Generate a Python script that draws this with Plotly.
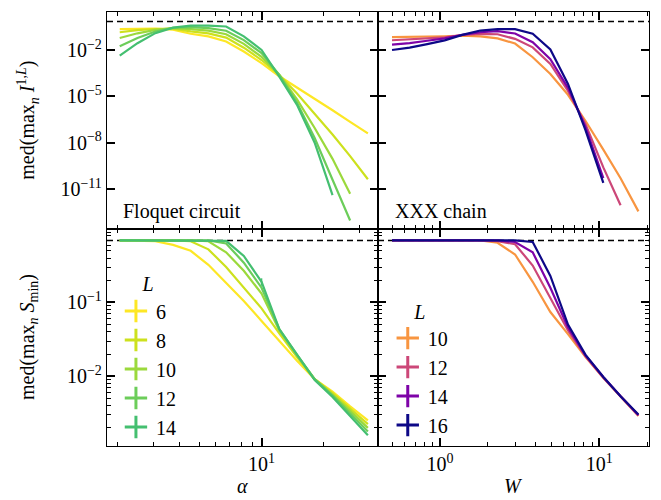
import numpy as np
import plotly.graph_objects as go
from plotly.subplots import make_subplots

# ---------------- data (stored as log10) ----------------
alpha = [2.05, 2.5, 3.05, 3.72, 4.53, 5.52, 6.73, 8.2, 10.0, 12.19, 14.86, 18.1, 22.1, 26.9, 32.8]
W = [0.5, 0.645, 0.832, 1.07, 1.38, 1.79, 2.30, 2.96, 3.82, 4.93, 6.36, 8.2, 10.6, 13.6, 17.6]

L_floquet = [6, 8, 10, 12, 14]
L_xxx = [10, 12, 14, 16]

# top-left: med(max_n I^{1,L}), Floquet circuit (log10 values)
floq_I_L6 = [-0.65, -0.62, -0.61, -0.68, -0.95, -1.12, -1.45, -2.10, -2.85, -3.70, -4.42, -5.15, -5.90, -6.65, -7.40]
floq_I_L8 = [-0.85, -0.72, -0.64, -0.62, -0.80, -0.92, -1.20, -1.85, -2.65, -3.62, -4.82, -6.12, -7.47, -8.87, -10.37]
floq_I_L10 = [-1.22, -0.92, -0.70, -0.58, -0.65, -0.75, -0.98, -1.60, -2.45, -3.60, -5.20, -7.05, -9.05, -11.31]
floq_I_L12 = [-1.76, -1.22, -0.80, -0.56, -0.52, -0.58, -0.75, -1.36, -2.20, -3.62, -5.42, -7.70, -10.40, -13.04]
floq_I_L14 = [-2.36, -1.56, -0.91, -0.55, -0.42, -0.42, -0.48, -1.12, -2.00, -3.73, -5.55, -8.00, -11.40]

# top-right: med(max_n I^{1,L}), XXX chain (log10 values)
xxx_I_L10 = [-1.17, -1.16, -1.14, -1.11, -1.07, -1.12, -1.25, -1.58, -2.47, -3.55, -4.90, -6.60, -8.45, -10.30, -12.45]
xxx_I_L12 = [-1.37, -1.32, -1.25, -1.18, -1.03, -0.95, -0.98, -1.28, -1.83, -2.90, -4.65, -6.80, -9.60, -12.05]
xxx_I_L14 = [-1.65, -1.55, -1.40, -1.25, -1.02, -0.85, -0.78, -0.93, -1.50, -2.60, -4.45, -7.00, -10.30]
xxx_I_L16 = [-2.00, -1.85, -1.62, -1.38, -1.02, -0.74, -0.65, -0.65, -0.95, -1.97, -4.20, -7.20, -10.60]

# bottom-left: med(max_n S_min), Floquet circuit (log10 values)
floq_S_L6 = [-0.159, -0.16, -0.17, -0.22, -0.30, -0.49, -0.73, -0.98, -1.25, -1.52, -1.79, -2.04, -2.21, -2.41, -2.60]
floq_S_L8 = [-0.159, -0.159, -0.159, -0.16, -0.17, -0.28, -0.52, -0.80, -1.08, -1.42, -1.74, -2.04, -2.23, -2.44, -2.65]
floq_S_L10 = [-0.159, -0.159, -0.159, -0.159, -0.159, -0.17, -0.32, -0.57, -0.88, -1.38, -1.72, -2.04, -2.25, -2.47, -2.70]
floq_S_L12 = [-0.159, -0.159, -0.159, -0.159, -0.159, -0.159, -0.20, -0.46, -0.80, -1.36, -1.71, -2.04, -2.26, -2.50, -2.75]
floq_S_L14 = [-0.159, -0.159, -0.159, -0.159, -0.159, -0.159, -0.165, -0.37, -0.72, -1.36, -1.70, -2.05, -2.28, -2.54, -2.80]
floq_S_L14_err = [0, 0, 0, 0, 0, 0, 0, 0, 0.022, 0, 0, 0, 0, 0, 0]

# bottom-right: med(max_n S_min), XXX chain (log10 values)
xxx_S_L10 = [-0.159, -0.159, -0.159, -0.159, -0.159, -0.159, -0.19, -0.35, -0.72, -1.13, -1.43, -1.74, -2.02, -2.28, -2.54]
xxx_S_L12 = [-0.159, -0.159, -0.159, -0.159, -0.159, -0.159, -0.17, -0.21, -0.50, -0.94, -1.38, -1.73, -2.02, -2.27, -2.53]
xxx_S_L14 = [-0.159, -0.159, -0.159, -0.159, -0.159, -0.159, -0.159, -0.18, -0.32, -0.80, -1.34, -1.72, -2.01, -2.27, -2.53]
xxx_S_L16 = [-0.159, -0.159, -0.159, -0.159, -0.159, -0.159, -0.159, -0.159, -0.18, -0.64, -1.30, -1.71, -2.01, -2.27, -2.52]

ln2 = 0.6931

floq_colors = ["#fde725", "#cde11d", "#9bd93c", "#6ccd5a", "#44bf70"]
xxx_colors = ["#f89540", "#cc4778", "#7e03a8", "#0d0887"]

# axis limits (log10)
xr_alpha = [0.25, 1.565]
xr_W = [-0.389, 1.312]
yr_I = [-13.59, 0.46]
yr_S = [-2.946, -0.004]

FONT = "'Liberation Serif', 'Times New Roman', serif"
FS = 20

fig = make_subplots(rows=2, cols=2, shared_xaxes=True, shared_yaxes=True,
                    horizontal_spacing=0, vertical_spacing=0)


def pw(v):
    return [10 ** x for x in v]


# dashed ln2 reference lines
for r, c, xr in [(1, 1, xr_alpha), (1, 2, xr_W), (2, 1, xr_alpha), (2, 2, xr_W)]:
    fig.add_trace(go.Scatter(x=[10 ** xr[0], 10 ** xr[1]], y=[ln2, ln2], mode="lines",
                             line=dict(color="black", width=1.5, dash="6px,4px"),
                             showlegend=False, hoverinfo="skip"), row=r, col=c)

floq_I = [floq_I_L6, floq_I_L8, floq_I_L10, floq_I_L12, floq_I_L14]
floq_S = [floq_S_L6, floq_S_L8, floq_S_L10, floq_S_L12, floq_S_L14]
xxx_I = [xxx_I_L10, xxx_I_L12, xxx_I_L14, xxx_I_L16]
xxx_S = [xxx_S_L10, xxx_S_L12, xxx_S_L14, xxx_S_L16]

for i, L in enumerate(L_floquet):
    yI = floq_I[i]
    fig.add_trace(go.Scatter(x=alpha[:len(yI)], y=pw(yI), mode="lines",
                             line=dict(color=floq_colors[i], width=2.2),
                             showlegend=False), row=1, col=1)
    kw = {}
    if L == 14:
        kw["error_y"] = dict(type="data", array=floq_S_L14_err, color=floq_colors[i],
                             thickness=1.5, width=0)
    fig.add_trace(go.Scatter(x=alpha, y=pw(floq_S[i]), mode="lines",
                             line=dict(color=floq_colors[i], width=2.2),
                             showlegend=False, **kw), row=2, col=1)
    fig.add_trace(go.Scatter(x=[None], y=[None], mode="markers", name=str(L),
                             marker=dict(symbol="cross-thin", size=18,
                                         line=dict(color=floq_colors[i], width=3)),
                             legend="legend", showlegend=True), row=2, col=1)

for i, L in enumerate(L_xxx):
    yI = xxx_I[i]
    fig.add_trace(go.Scatter(x=W[:len(yI)], y=pw(yI), mode="lines",
                             line=dict(color=xxx_colors[i], width=2.2),
                             showlegend=False), row=1, col=2)
    fig.add_trace(go.Scatter(x=W, y=pw(xxx_S[i]), mode="lines",
                             line=dict(color=xxx_colors[i], width=2.2),
                             showlegend=False), row=2, col=2)
    fig.add_trace(go.Scatter(x=[None], y=[None], mode="markers", name=str(L),
                             marker=dict(symbol="cross-thin", size=18,
                                         line=dict(color=xxx_colors[i], width=3)),
                             legend="legend2", showlegend=True), row=2, col=2)

axis_common = dict(type="log", showline=True, linecolor="black", linewidth=1.3,
                   mirror="allticks", ticks="inside", ticklen=8, tickwidth=1.5,
                   tickcolor="black", showgrid=False, zeroline=False, automargin=False,
                   tickfont=dict(family=FONT, size=FS, color="black"))

alpha_minor = [2, 3, 4, 5, 6, 7, 8, 9, 20, 30]
W_minor = [0.5, 0.6, 0.7, 0.8, 0.9, 2, 3, 4, 5, 6, 7, 8, 9, 20]
S_minor = [0.002, 0.003, 0.004, 0.005, 0.006, 0.007, 0.008, 0.009,
           0.02, 0.03, 0.04, 0.05, 0.06, 0.07, 0.08, 0.09,
           0.2, 0.3, 0.4, 0.5, 0.6, 0.7, 0.8, 0.9]
minor_style = dict(ticks="inside", ticklen=4, tickwidth=1, tickcolor="black", showgrid=False)

for r in (1, 2):
    fig.update_xaxes(row=r, col=1, range=xr_alpha, tickvals=[10], ticktext=["10<sup>1</sup>"],
                     showticklabels=(r == 2), minor=dict(tickvals=alpha_minor, **minor_style),
                     **axis_common)
    fig.update_xaxes(row=r, col=2, range=xr_W, tickvals=[1, 10],
                     ticktext=["10<sup>0</sup>", "10<sup>1</sup>"],
                     showticklabels=(r == 2), minor=dict(tickvals=W_minor, **minor_style),
                     **axis_common)
for c in (1, 2):
    fig.update_yaxes(row=1, col=c, range=yr_I, tickvals=[1e-2, 1e-5, 1e-8, 1e-11],
                     ticktext=["10<sup>−2</sup>", "10<sup>−5</sup>", "10<sup>−8</sup>", "10<sup>−11</sup>"],
                     showticklabels=(c == 1), **axis_common)
    fig.update_yaxes(row=2, col=c, range=yr_S, tickvals=[1, 0.1, 0.01],
                     ticktext=["10<sup>0</sup>", "10<sup>−1</sup>", "10<sup>−2</sup>"],
                     showticklabels=(c == 1), minor=dict(tickvals=S_minor, **minor_style),
                     **axis_common)

ann_font = dict(family=FONT, size=FS, color="black")
annotations = [
    dict(text="Floquet circuit", xref="x domain", yref="y domain", x=0.053, y=0.082,
         xanchor="left", yanchor="middle", showarrow=False, font=ann_font),
    dict(text="XXX chain", xref="x2 domain", yref="y2 domain", x=0.054, y=0.082,
         xanchor="left", yanchor="middle", showarrow=False, font=ann_font),
    dict(text="med(max<sub><i>n</i></sub> <i>I</i><sup>1,<i>L</i></sup>)", xref="paper", yref="paper",
         x=-0.146, y=0.7515, textangle=-90, xanchor="center", yanchor="middle",
         showarrow=False, font=ann_font),
    dict(text="med(max<sub><i>n</i></sub> <i>S</i><sub>min</sub>)", xref="paper", yref="paper",
         x=-0.146, y=0.2508, textangle=-90, xanchor="center", yanchor="middle",
         showarrow=False, font=ann_font),
    dict(text="<i>α</i>", xref="paper", yref="paper", x=0.25, y=-0.093,
         xanchor="center", yanchor="middle", showarrow=False, font=ann_font),
    dict(text="<i>W</i>", xref="paper", yref="paper", x=0.75, y=-0.093,
         xanchor="center", yanchor="middle", showarrow=False, font=ann_font),
]

legend_common = dict(font=dict(family=FONT, size=FS, color="black"),
                     bgcolor="rgba(0,0,0,0)", borderwidth=0,
                     title=dict(text="<i>L</i>", side="top center",
                                font=dict(family=FONT, size=FS, color="black")),
                     xanchor="left", yanchor="top", itemsizing="trace", tracegroupgap=0)

# the page body has an 8px default margin, so the figure is sized to fit inside it
fig.update_layout(
    template="none",
    width=653, height=492,
    margin=dict(l=99, r=12, t=4, b=54, pad=0),
    paper_bgcolor="white", plot_bgcolor="white",
    font=dict(family=FONT, size=FS, color="black"),
    annotations=annotations,
    legend=dict(x=0.0165, y=0.416, **legend_common),
    legend2=dict(x=0.518, y=0.3535, **legend_common),
)

fig.write_html("out.html")
